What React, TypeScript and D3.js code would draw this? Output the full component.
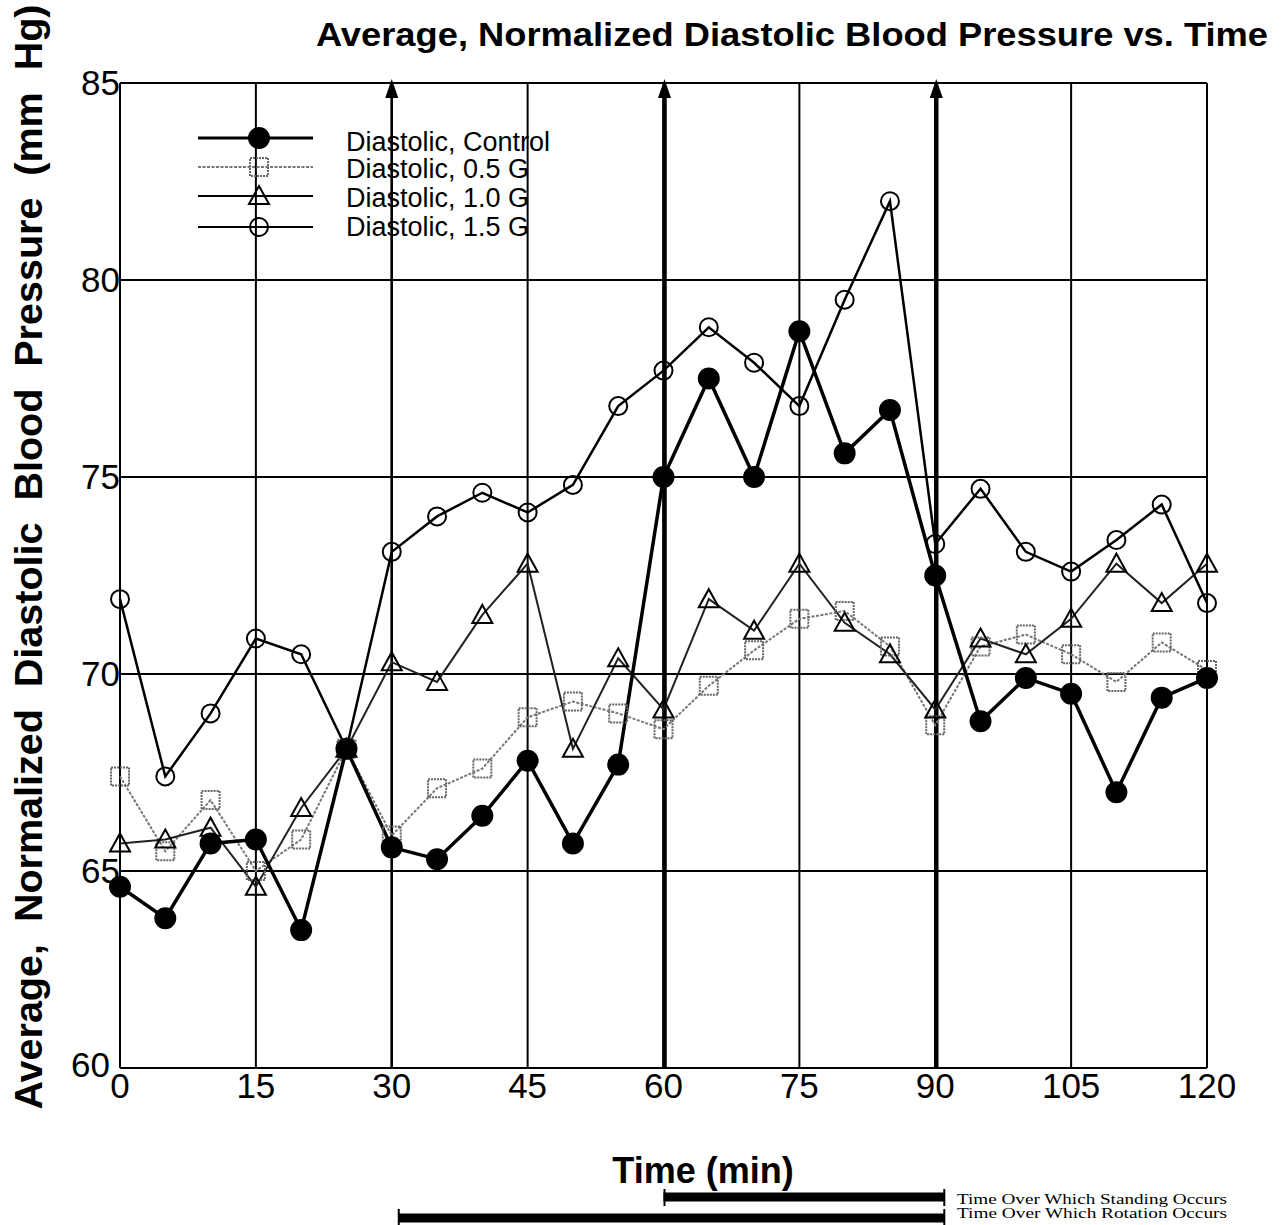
import React from "react";
import * as d3 from "d3";

const times = [0,5,10,15,20,25,30,35,40,45,50,55,60,65,70,75,80,85,90,95,100,105,110,115,120];
const control = [64.6,63.8,65.7,65.8,63.5,68.1,65.6,65.3,66.4,67.8,65.7,67.7,75.0,77.5,75.0,78.7,75.6,76.7,72.5,68.8,69.9,69.5,67.0,69.4,69.9];
const g05 = [67.4,65.5,66.8,65.0,65.8,68.1,65.9,67.1,67.6,68.9,69.3,69.0,68.6,69.7,70.6,71.4,71.6,70.7,68.7,70.7,71.0,70.5,69.8,70.8,70.1];
const g10 = [65.7,65.8,66.1,64.6,66.6,68.1,70.3,69.8,71.5,72.8,68.1,70.4,69.1,71.9,71.1,72.8,71.3,70.5,69.1,70.9,70.5,71.4,72.8,71.8,72.8];
const g15 = [71.9,67.4,69.0,70.9,70.5,68.1,73.1,74.0,74.6,74.1,74.8,76.8,77.7,78.8,77.9,76.8,79.5,82.0,73.3,74.7,73.1,72.6,73.4,74.3,71.8];
const xTicks = [0,15,30,45,60,75,90,105,120];
const yTicks = [60,65,70,75,80,85];
const legendLabels = ["Diastolic, Control","Diastolic, 0.5 G","Diastolic, 1.0 G","Diastolic, 1.5 G"];
const arrowTimes = [30,60,90];
const standing = [60,91];
const rotation = [30,91];

const W = 1283, H = 1225;
const x = d3.scaleLinear().domain([0,120]).range([120,1207]);
const y = d3.scaleLinear().domain([60,85]).range([1068,83]);

function linePath(vals: number[]) {
  return d3.line<number>().x((_, i) => x(times[i])).y(v => y(v))(vals) || "";
}

const Circle = ({cx, cy, filled}: any) => (
  <circle cx={cx} cy={cy} r={filled ? 10 : 9} fill={filled ? "#000" : "none"} stroke="#000" strokeWidth={2} />
);
const Square = ({cx, cy}: any) => (
  <rect x={cx-9} y={cy-9} width={18} height={18} fill="none" stroke="#666" strokeWidth={2} strokeDasharray="2,1" />
);
const Tri = ({cx, cy}: any) => (
  <path d={`M${cx},${cy-10} L${cx+10},${cy+8} L${cx-10},${cy+8} Z`} fill="none" stroke="#000" strokeWidth={2} />
);

export default function App() {
  const font = "'Liberation Sans', Arial, Helvetica, sans-serif";
  return (
    <svg width={W} height={H} style={{display:"block", position:"absolute", left:0, top:0, background:"#fff"}}>
      <rect x={0} y={0} width={W} height={H} fill="#fff" />
      {/* title */}
      <text x={316} y={46} fontFamily={font} fontWeight="bold" fontSize={34} textLength={952} lengthAdjust="spacingAndGlyphs">Average, Normalized Diastolic Blood Pressure vs. Time</text>
      {/* y label */}
      <text transform="translate(42,557) rotate(-90)" textAnchor="middle" fontFamily={font} fontWeight="bold" fontSize={38} textLength={1105} lengthAdjust="spacingAndGlyphs" style={{whiteSpace:"pre"}}>{"Average,  Normalized  Diastolic  Blood  Pressure  (mm  Hg)"}</text>
      {/* grid */}
      {yTicks.map(t => <line key={"gy"+t} x1={x(0)} x2={x(120)} y1={y(t)} y2={y(t)} stroke="#000" strokeWidth={2} />)}
      {xTicks.map(t => <line key={"gx"+t} x1={x(t)} x2={x(t)} y1={y(60)} y2={y(85)} stroke="#000" strokeWidth={2} />)}
      {/* arrows */}
      {arrowTimes.map(t => {
        const ax = x(t) + (t === 30 ? 0 : 1);
        return (
          <g key={"ar"+t}>
            <line x1={ax} x2={ax} y1={y(60)} y2={y(85)+8} stroke="#000" strokeWidth={t===30 ? 2.5 : 4.5} />
            <path d={`M${ax},${y(85)-4} L${ax+6.5},${y(85)+15} L${ax-6.5},${y(85)+15} Z`} fill="#000" />
          </g>
        );
      })}
      {/* tick labels */}
      {yTicks.map(t => <text key={"yl"+t} x={t === 60 ? 110 : 120} y={t === 60 ? y(t)+9 : y(t)+12} textAnchor="end" fontFamily={font} fontSize={35}>{t}</text>)}
      {xTicks.map(t => <text key={"xl"+t} x={x(t)} y={1098} textAnchor="middle" fontFamily={font} fontSize={35}>{t}</text>)}
      <text x={703} y={1183} textAnchor="middle" fontFamily={font} fontWeight="bold" fontSize={36}>Time (min)</text>
      {/* series lines */}
      <path d={linePath(g05)} fill="none" stroke="#777" strokeWidth={2} strokeDasharray="3,1.5" />
      <path d={linePath(g10)} fill="none" stroke="#222" strokeWidth={2} />
      <path d={linePath(g15)} fill="none" stroke="#000" strokeWidth={2.5} />
      <path d={linePath(control)} fill="none" stroke="#000" strokeWidth={3.5} />
      {/* markers */}
      {g05.map((v,i) => <Square key={"s"+i} cx={x(times[i])} cy={y(v)} />)}
      {g10.map((v,i) => <Tri key={"t"+i} cx={x(times[i])} cy={y(v)} />)}
      {g15.map((v,i) => <Circle key={"o"+i} cx={x(times[i])} cy={y(v)} filled={false} />)}
      {control.map((v,i) => <Circle key={"c"+i} cx={x(times[i])} cy={y(v)} filled={true} />)}
      {/* legend */}
      {legendLabels.map((lab,i) => {
        const ly = [138,167,196,227][i];
        return (
          <g key={"lg"+i}>
            <line x1={198} x2={313} y1={ly} y2={ly} stroke={i===1 ? "#777" : "#000"} strokeWidth={i===0 ? 3 : 2} strokeDasharray={i===1 ? "3,1.5" : undefined} />
            {i===0 && <Circle cx={259} cy={ly} filled={true} />}
            {i===1 && <Square cx={259} cy={ly} />}
            {i===2 && <Tri cx={259} cy={ly} />}
            {i===3 && <Circle cx={259} cy={ly} filled={false} />}
            <text x={346} y={[151,178,207,236][i]} fontFamily={font} fontSize={27}>{lab}</text>
          </g>
        );
      })}
      {/* bottom bars */}
      <line x1={x(standing[0])} x2={x(standing[1])} y1={1197} y2={1197} stroke="#000" strokeWidth={9} />
      <line x1={x(standing[0])+1} x2={x(standing[0])+1} y1={1189} y2={1206} stroke="#000" strokeWidth={2} />
      <line x1={x(standing[1])} x2={x(standing[1])} y1={1189} y2={1206} stroke="#000" strokeWidth={2} />
      <line x1={x(rotation[0])+7} x2={x(rotation[1])} y1={1218} y2={1218} stroke="#000" strokeWidth={9} />
      <line x1={x(rotation[0])+7} x2={x(rotation[0])+7} y1={1209} y2={1225} stroke="#000" strokeWidth={2} />
      <line x1={x(rotation[1])} x2={x(rotation[1])} y1={1209} y2={1225} stroke="#000" strokeWidth={2} />
      <text x={957} y={1204} fontFamily="'Liberation Serif', 'Times New Roman', serif" fontSize={14} textLength={270} lengthAdjust="spacingAndGlyphs">Time Over Which Standing Occurs</text>
      <text x={957} y={1218} fontFamily="'Liberation Serif', 'Times New Roman', serif" fontSize={14} textLength={270} lengthAdjust="spacingAndGlyphs">Time Over Which Rotation Occurs</text>
    </svg>
  );
}
